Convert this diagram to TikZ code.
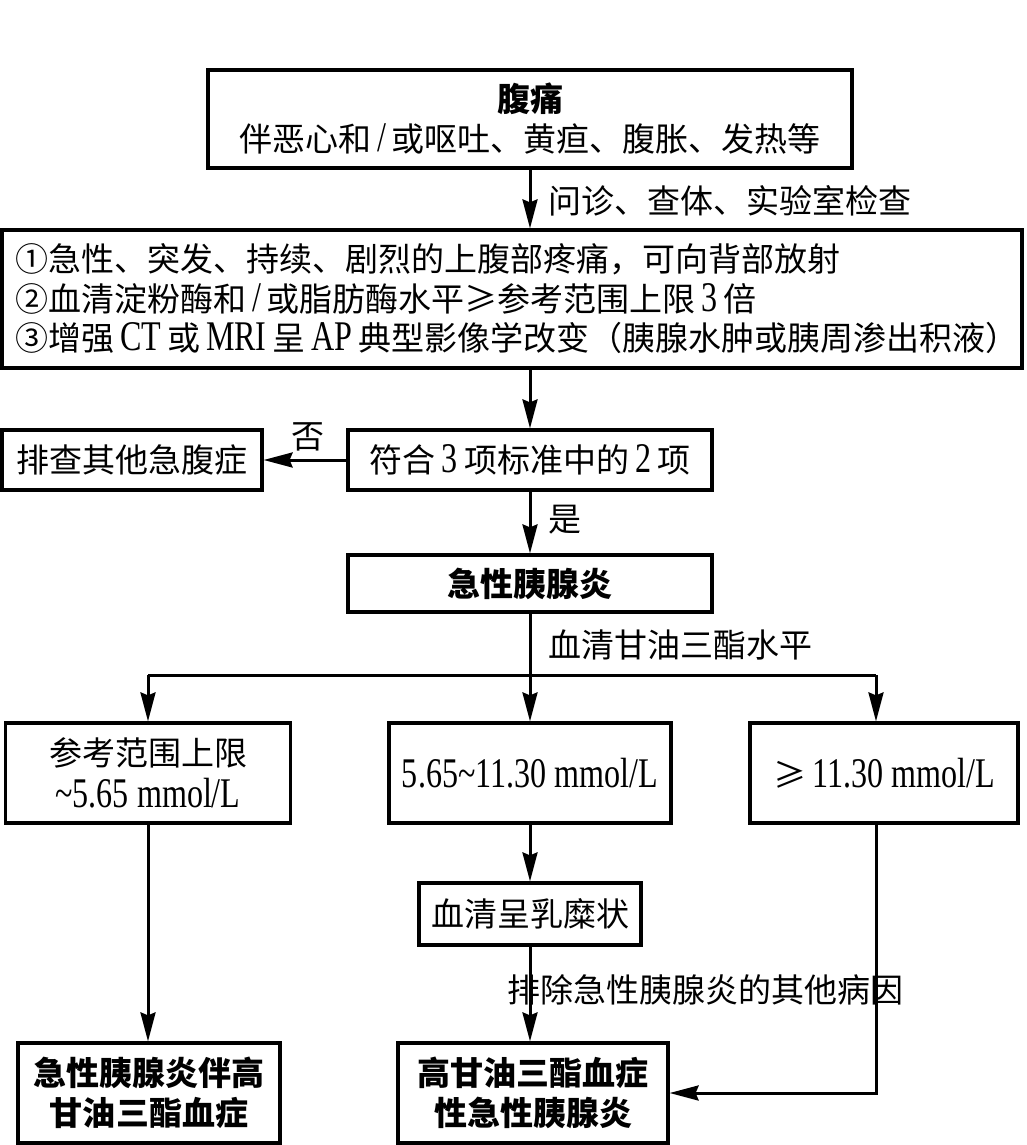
\documentclass[tikz,border=0pt]{standalone}
\usepackage{fontspec}
\setmainfont{Noto Sans CJK SC}
\newfontfamily\latin[Scale=1.28,FakeStretch=0.76]{Liberation Serif}
\newcommand\en[1]{{\latin #1}}
\newcommand\gap{\hspace{6pt}}
\usetikzlibrary{arrows.meta}
\tikzset{
  box/.style={draw, line width=3.2pt, inner sep=0pt, align=center, font=\fontsize{33}{40}\selectfont},
  lbl/.style={inner sep=0pt, font=\fontsize{33}{40}\selectfont},
  conn/.style={line width=3pt, -{Stealth[length=29pt,width=15pt,inset=3pt]}},
  plain/.style={line width=3pt}
}
\begin{document}
\begin{tikzpicture}[x=1pt,y=-1pt]
\useasboundingbox (0,0) rectangle (1026,1145);
\node[box, minimum width=644pt, minimum height=98pt] (top) at (530,119)
  {{\bfseries 腹痛}\\伴恶心和\gap\en{/}\gap{}或呕吐、黄疸、腹胀、发热等};
\node[box, minimum width=1020pt, minimum height=138pt, text width=994pt, inner xsep=13pt, align=left,
      font=\fontsize{33}{39.5}\selectfont] (crit) at (512,299)
  {①急性、突发、持续、剧烈的上腹部疼痛，可向背部放射\\
   ②血清淀粉酶和\gap\en{/}\gap{}或脂肪酶水平≥参考范围上限\gap\en{3}\gap{}倍\\
   ③增强\gap\en{CT}\gap{}或\gap\en{MRI}\gap{}呈\gap\en{AP}\gap{}典型影像学改变（胰腺水肿或胰周渗出积液）};
\node[box, minimum width=364pt, minimum height=60pt] (fit) at (530,460)
  {符合\gap\en{3}\gap{}项标准中的\gap\en{2}\gap{}项};
\node[box, minimum width=260pt, minimum height=60pt] (excl) at (132,460)
  {排查其他急腹症};
\node[box, minimum width=364pt, minimum height=57pt] (ap) at (530,583.5)
  {\bfseries 急性胰腺炎};
\node[box, minimum width=285pt, minimum height=100pt] (A) at (148,773)
  {参考范围上限\\[2pt]\en{\textasciitilde 5.65 mmol/L}};
\node[box, minimum width=282pt, minimum height=100pt] (B) at (530,773)
  {\en{5.65\textasciitilde 11.30 mmol/L}};
\node[box, minimum width=268pt, minimum height=100pt] (C) at (884,773)
  {≥\gap\en{11.30 mmol/L}};
\node[box, minimum width=222pt, minimum height=62pt] (E) at (530,914)
  {血清呈乳糜状};
\node[box, minimum width=262pt, minimum height=100pt, font=\fontsize{33}{40}\selectfont\bfseries] (D) at (149,1093)
  {急性胰腺炎伴高\\甘油三酯血症};
\node[box, minimum width=270pt, minimum height=100pt, font=\fontsize{33}{40}\selectfont\bfseries] (F) at (533,1093)
  {高甘油三酯血症\\性急性胰腺炎};
% labels
\node[lbl] (l1) at (730,201) {问诊、查体、实验室检查};
\node[lbl] (l2) at (308,437) {否};
\node[lbl] (l3) at (565,520) {是};
\node[lbl] (l4) at (680,645) {血清甘油三酯水平};
\node[lbl] (l5) at (705,990) {排除急性胰腺炎的其他病因};
% connectors
\draw[conn] (top.south) -- (top.south |- crit.north);
\draw[conn] (fit.north |- crit.south) -- (fit.north);
\draw[conn] (fit.west) -- (excl.east);
\draw[conn] (fit.south) -- (ap.north);
\coordinate (split) at (530,675);
\coordinate (jc) at (876,675);
\draw[plain] (ap.south) -- (split);
\draw[plain] (A.north |- split) -- (jc);
\draw[conn] (A.north |- split) -- (A.north);
\draw[conn] (split) -- (B.north);
\draw[conn] (jc) -- (jc |- C.north);
\draw[conn] (A.south) -- (A.south |- D.north);
\draw[conn] (B.south) -- (E.north);
\draw[conn] (E.south) -- (E.south |- F.north);
\draw[conn] (jc |- C.south) -- (jc |- F.east) -- (F.east);
\end{tikzpicture}
\end{document}
